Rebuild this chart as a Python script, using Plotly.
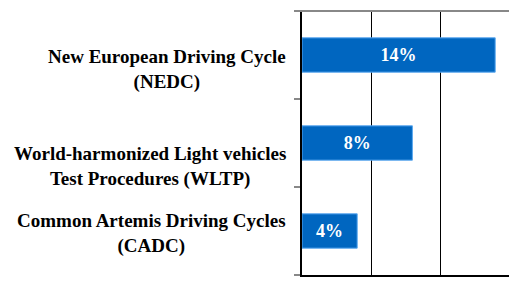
import plotly.graph_objects as go

categories = ["NEDC", "WLTP", "CADC"]
labels = ["New European Driving Cycle<br>(NEDC)",
          "World-harmonized Light vehicles<br>Test Procedures (WLTP)",
          "Common Artemis Driving Cycles<br>(CADC)"]
values = [14, 8, 4]
value_text = ["14%", "8%", "4%"]
label_shift = [-14, -23, -2]

FONT = "Liberation Serif, Times New Roman, serif"

fig = go.Figure(go.Bar(
    y=categories, x=values, orientation="h",
    text=["<b>" + t + "</b>" for t in value_text],
    textposition="inside", insidetextanchor="middle",
    textfont=dict(family=FONT, size=18, color="white"),
    constraintext="none",
    width=0.39,
    marker=dict(color="#0066C0", line=dict(color="#5AA8F0", width=1)),
    hoverinfo="skip",
))

annotations = []
for cat, lab, sh in zip(categories, labels, label_shift):
    annotations.append(dict(
        x=0, xref="paper", y=cat, yref="y", text="<b>" + lab + "</b>",
        xanchor="right", yanchor="middle", align="center", showarrow=False,
        xshift=-14, yshift=sh,
        font=dict(family=FONT, size=19, color="black"),
    ))

fig.update_layout(
    width=509, height=277,
    margin=dict(l=294, r=8, t=3, b=10),
    paper_bgcolor="white", plot_bgcolor="white",
    showlegend=False,
    annotations=annotations,
    shapes=[dict(type="line", xref="paper", yref="paper",
                 x0=-0.03, x1=1.0, y0=1, y1=1,
                 line=dict(color="#888888", width=2))],
    xaxis=dict(range=[0, 15], tickvals=[0, 5, 10, 15], showticklabels=False,
               showgrid=True, gridcolor="black", gridwidth=1,
               showline=True, linecolor="black", linewidth=2,
               zeroline=False, ticks=""),
    yaxis=dict(categoryorder="array", categoryarray=categories[::-1],
               showticklabels=False, showgrid=False,
               showline=True, linecolor="black", linewidth=2,
               ticks="outside", tickson="boundaries", ticklen=6,
               tickcolor="#888888", tickwidth=2),
)

fig.write_html("out.html")
